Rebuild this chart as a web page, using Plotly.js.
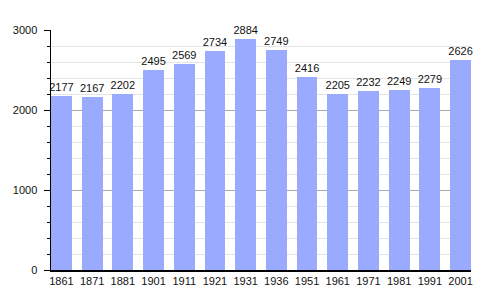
<!DOCTYPE html>
<html>
<head>
<meta charset="utf-8">
<script src="https://cdn.plot.ly/plotly-3.0.1.min.js"></script>
<style>html,body{margin:0;padding:0;background:#fff;}#chart{width:500px;height:300px;}</style>
</head>
<body>
<div id="chart"></div>
<script>
const years = ["1861","1871","1881","1901","1911","1921","1931","1936","1951","1961","1971","1981","1991","2001"];
const population = [2177,2167,2202,2495,2569,2734,2884,2749,2416,2205,2232,2249,2279,2626];
const yTicks = [0,1000,2000,3000];

const bw = 0.68;
const trace = {
  type: 'bar',
  x: years.map((_, i) => i),
  y: population,
  width: bw,
  marker: {color: '#99aaff'},
  text: population.map(String),
  textposition: 'outside',
  constraintext: 'none',
  cliponaxis: false,
  textfont: {family: 'Liberation Sans, Arial, sans-serif', size: 11, color: '#111'},
  hoverinfo: 'none'
};

const layout = {
  width: 500, height: 300,
  margin: {l: 51, r: 29, t: 30, b: 30},
  paper_bgcolor: '#fff', plot_bgcolor: '#fff',
  showlegend: false,
  font: {family: 'Liberation Sans, Arial, sans-serif', size: 11, color: '#111'},
  bargap: 0,
  xaxis: {
    range: [-bw/2, years.length - 1 + bw/2],
    tickmode: 'array',
    tickvals: years.map((_, i) => i),
    ticktext: years,
    showgrid: false, zeroline: false,
    showline: true, linecolor: '#000', linewidth: 1.5,
    ticks: '', ticklen: 0,
    tickfont: {size: 11}
  },
  yaxis: {
    range: [0, 3000],
    tickmode: 'array',
    tickvals: yTicks,
    ticktext: yTicks.map(String),
    showgrid: true, gridcolor: '#aaaaaa', gridwidth: 1,
    zeroline: false,
    showline: true, linecolor: '#000', linewidth: 1.5,
    ticks: 'outside', ticklen: 6, tickcolor: '#000', tickwidth: 1,
    ticklabelstandoff: 4,
    tickfont: {size: 11},
    minor: {dtick: 200, tick0: 0, showgrid: true, gridcolor: '#e4e4e4', gridwidth: 1, ticks: 'outside', ticklen: 3, tickcolor: '#000'}
  }
};

Plotly.newPlot('chart', [trace], layout, {displayModeBar: false, staticPlot: true});
</script>
</body>
</html>
